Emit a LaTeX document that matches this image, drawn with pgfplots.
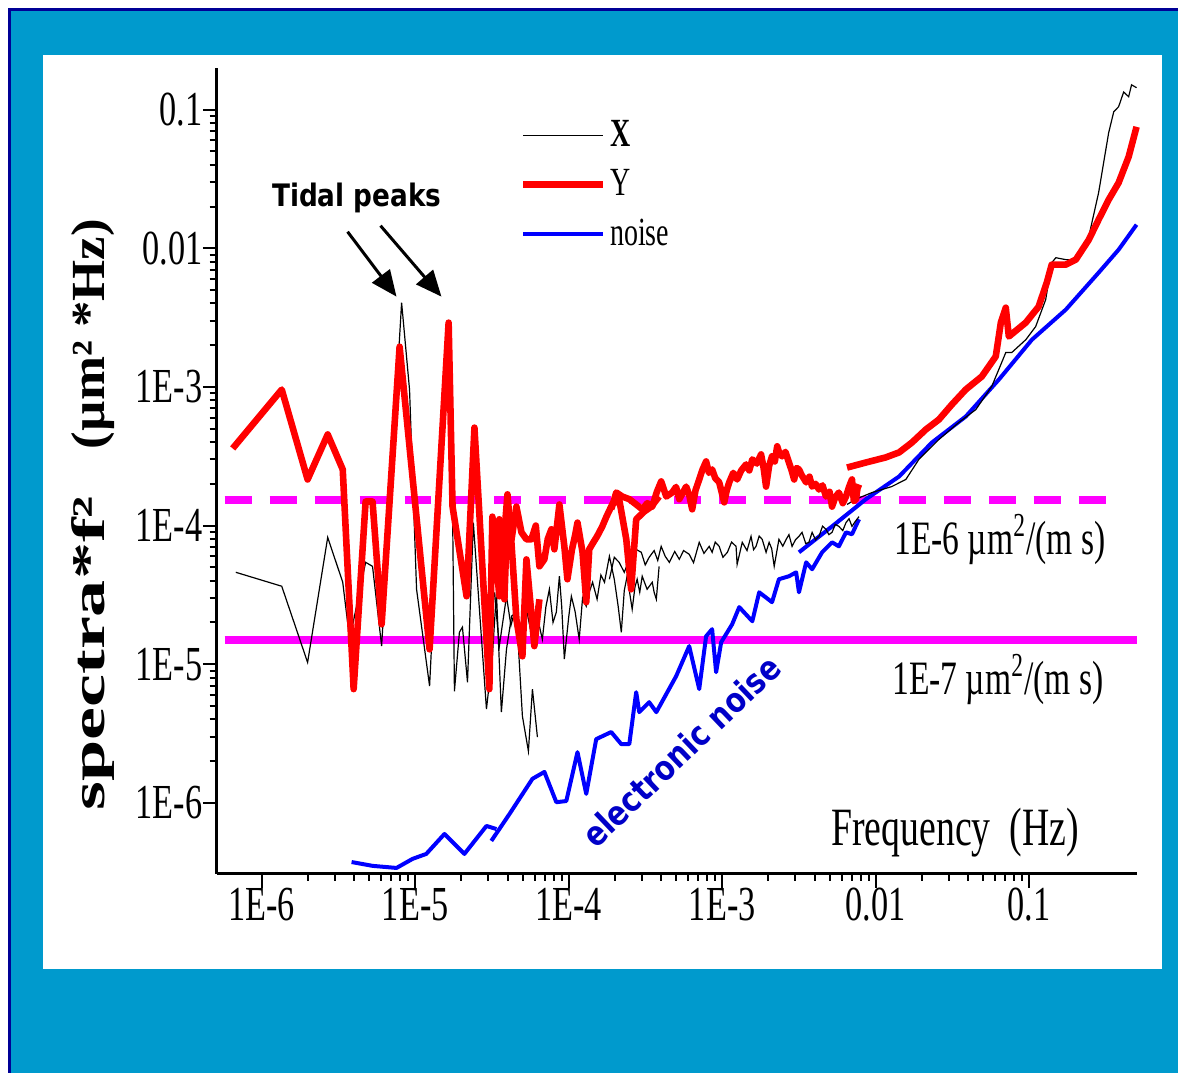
\documentclass[border=0pt]{standalone}
\usepackage{pgfplots}
\pgfplotsset{compat=1.18}
\usepackage{fontspec}
\setmainfont{Liberation Serif}
\newfontfamily\cserif[FakeStretch=0.70]{Liberation Serif}
\newfontfamily\comic[FakeStretch=0.85]{DejaVu Sans}
\usetikzlibrary{arrows.meta}
\definecolor{bgblue}{RGB}{0,154,205}
\definecolor{navyb}{RGB}{0,0,150}
\definecolor{mag}{RGB}{255,0,255}
\definecolor{enoise}{RGB}{0,0,200}
\begin{document}
\begin{tikzpicture}
\begin{scope}[x=0.5pt,y=-0.5pt]
\fill[white] (0,0) rectangle (1179,1074);
\fill[bgblue] (8,8) rectangle (1179,1074);
\draw[navyb, line width=1.5pt] (9.5,1074) -- (9.5,9.5) -- (1179,9.5);
\fill[white] (43,55) rectangle (1163,970);
\end{scope}
\begin{axis}[
 at={(108.5pt,-437.5pt)}, anchor=south west,
 scale only axis, width=460.5pt, height=403.5pt,
 xmode=log, ymode=log,
 xmin=5.09e-7, xmax=0.5, ymin=3.07e-7, ymax=0.2,
 axis x line*=bottom, axis y line*=left,
 axis line style={line width=1.5pt},
 tick align=outside,
 major tick length=7pt, minor tick length=3.5pt,
 every tick/.style={black, line width=1pt},
 xtick={1e-6,1e-5,1e-4,1e-3,1e-2,1e-1},
 xticklabels={1E-6,1E-5,1E-4,1E-3,0.01,0.1},
 ytick={1e-6,1e-5,1e-4,1e-3,1e-2,1e-1},
 yticklabels={1E-6,1E-5,1E-4,1E-3,0.01,0.1},
 ticklabel style={font=\fontsize{24.5}{26}\cserif, inner sep=0pt},
 clip=false,
 legend style={at={(0.329,0.94)}, anchor=north west, draw=none, fill=none,
   font=\fontsize{20}{22}\cserif, inner sep=0pt, row sep=6pt, cells={anchor=west}},
 legend image code/.code={\draw[#1] (0pt,0pt) -- (40pt,0pt);},
]
\addlegendimage{black, line width=0.6pt}\addlegendentry{\textbf{X}}
\addlegendimage{red, line width=3.3pt}\addlegendentry{Y}
\addlegendimage{blue, line width=2pt}\addlegendentry{noise}
% reference levels
\addplot[mag, line width=4pt, dash pattern=on 13.5pt off 9pt, forget plot] coordinates {(5.74e-7,1.53e-4) (0.382,1.53e-4)};
\addplot[mag, line width=4pt, forget plot] coordinates {(5.74e-7,1.5e-5) (0.5,1.5e-5)};
% noise
\addplot[blue, line width=2pt, line join=round, forget plot] coordinates {
(3.85e-6,3.74e-7) (5.27e-6,3.51e-7) (7.55e-6,3.39e-7) (9.60e-6,3.94e-7) (1.18e-5,4.28e-7) (1.55e-5,5.96e-7) (2.09e-5,4.28e-7) (2.91e-5,6.81e-7) (3.38e-5,6.47e-7)};
\addplot[blue, line width=2pt, line join=round, forget plot] coordinates {
(3.13e-5,5.31e-7) (4.11e-5,8.30e-7) (5.80e-5,1.49e-6) (6.94e-5,1.67e-6) (8.30e-5,1.01e-6) (9.64e-5,1.03e-6) (1.14e-4,2.32e-6) (1.30e-4,1.16e-6) (1.51e-4,2.88e-6) (1.89e-4,3.24e-6) (2.20e-4,2.65e-6) (2.48e-4,2.65e-6) (2.75e-4,6.28e-6) (2.88e-4,4.51e-6) (3.34e-4,5.32e-6) (3.72e-4,4.51e-6) (5.01e-4,8.20e-6) (6.09e-4,1.35e-5) (7.08e-4,6.61e-6) (7.85e-4,1.59e-5) (8.59e-4,1.79e-5) (9.12e-4,8.75e-6) (9.84e-4,1.44e-5) (1.16e-3,1.94e-5) (1.29e-3,2.58e-5) (1.57e-3,2.04e-5) (1.74e-3,3.30e-5) (2.11e-3,2.80e-5) (2.34e-3,4.10e-5) (2.72e-3,4.31e-5) (3.03e-3,4.60e-5) (3.16e-3,3.30e-5) (3.52e-3,5.43e-5) (3.85e-3,4.84e-5) (4.47e-3,6.41e-5) (5.19e-3,7.57e-5) (5.75e-3,7.08e-5) (6.40e-3,8.93e-5) (7.00e-3,8.65e-5) (7.78e-3,1.11e-4)};
\addplot[blue, line width=2pt, line join=round, forget plot] coordinates {
(3.16e-3,6.41e-5) (5.19e-3,9.86e-5) (8.63e-3,1.55e-4) (1.42e-2,2.26e-4) (2.32e-2,3.97e-4) (3.86e-2,6.12e-4) (6.34e-2,1.13e-3) (0.104,2.19e-3) (0.173,3.61e-3) (0.283,6.67e-3) (0.382,9.77e-3) (0.500,1.48e-2)};
% X
\addplot[black, line width=0.6pt, forget plot] coordinates {
(6.78e-7,4.60e-5) (1.35e-6,3.65e-5) (1.99e-6,1.03e-5) (2.69e-6,8.22e-5) (3.37e-6,3.90e-5) (3.74e-6,1.51e-5) (4.75e-6,5.43e-5) (5.27e-6,5.08e-5) (6.04e-6,1.35e-5) (8.15e-6,4.06e-3) (9.18e-6,9.57e-4) (1.02e-5,3.47e-5) (1.24e-5,6.95e-6) (1.60e-5,2.19e-3) (1.75e-5,1.37e-4) (1.80e-5,6.38e-6) (1.94e-5,1.70e-5) (2.03e-5,1.85e-5) (2.19e-5,7.41e-6) (2.39e-5,1.05e-4) (2.91e-5,4.74e-6) (3.18e-5,1.14e-5) (3.38e-5,3.30e-5) (3.64e-5,4.51e-6) (3.93e-5,1.28e-5) (4.24e-5,2.22e-5) (4.56e-5,2.37e-5) (4.99e-5,4.22e-6) (5.46e-5,2.36e-6) (5.80e-5,6.61e-6) (6.25e-5,2.98e-6)};
\addplot[black, line width=0.6pt, forget plot] coordinates {
(3.28e-5,3.30e-5) (3.53e-5,1.35e-5) (3.93e-5,3.09e-5) (4.2e-5,1.9e-5) (4.43e-5,2.37e-5) (4.77e-5,1.22e-5) (5.05e-5,2.0e-5) (5.30e-5,2.49e-5) (5.80e-5,1.51e-5) (6.1e-5,2.5e-5) (6.44e-5,1.88e-5) (6.73e-5,1.51e-5) (7.1e-5,2.6e-5) (7.48e-5,3.47e-5) (7.9e-5,2.0e-5) (8.30e-5,2.37e-5) (8.69e-5,4.31e-5) (9.0e-5,2.6e-5) (9.36e-5,1.09e-5) (1.0e-4,2.2e-5) (1.04e-4,3.09e-5) (1.1e-4,2.4e-5) (1.17e-4,1.51e-5) (1.23e-4,3.0e-5) (1.30e-4,2.62e-5) (1.36e-4,3.3e-5) (1.43e-4,3.90e-5) (1.53e-4,2.94e-5) (1.62e-4,4.4e-5) (1.71e-4,3.90e-5) (1.84e-4,6.00e-5) (1.98e-4,4.10e-5) (2.10e-4,2.6e-5) (2.20e-4,1.70e-5) (2.30e-4,3.4e-5) (2.40e-4,4.31e-5) (2.59e-4,2.49e-5) (2.70e-4,3.6e-5) (2.79e-4,4.10e-5) (2.90e-4,3.3e-5) (3.01e-4,4.31e-5) (3.24e-4,3.47e-5) (3.50e-4,3.90e-5) (3.60e-4,3.3e-5) (3.72e-4,2.94e-5) (3.88e-4,5.08e-5)};
\addplot[black, line width=0.6pt, forget plot] coordinates {
(1.84e-4,4.10e-5) (1.98e-4,5.9e-5) (2.13e-4,5.43e-5) (2.3e-4,4.6e-5) (2.48e-4,5.71e-5) (2.7e-4,6.8e-5) (2.97e-4,6.41e-5) (3.15e-4,5.2e-5) (3.34e-4,5.90e-5) (3.6e-4,6.6e-5) (3.8e-4,5.6e-5) (4.00e-4,7.08e-5) (4.25e-4,6.0e-5) (4.52e-4,5.43e-5) (4.9e-4,6.5e-5) (5.25e-4,5.71e-5) (5.6e-4,6.6e-5) (6.09e-4,6.21e-5) (6.5e-4,5.4e-5) (7.08e-4,7.57e-5) (7.6e-4,6.3e-5) (8.22e-4,7.08e-5) (8.59e-4,6.41e-5) (9.0e-4,7.6e-5) (9.55e-4,7.08e-5) (1.01e-3,5.9e-5) (1.08e-3,6.41e-5) (1.15e-3,7.6e-5) (1.23e-3,7.08e-5) (1.25e-3,5.25e-5) (1.35e-3,7.57e-5) (1.45e-3,6.6e-5) (1.54e-3,8.36e-5) (1.6e-3,6.7e-5) (1.66e-3,7.08e-5) (1.74e-3,8.4e-5) (1.82e-3,7.96e-5) (1.93e-3,6.41e-5) (2.02e-3,7.57e-5) (2.1e-3,6.8e-5) (2.18e-3,5.08e-5) (2.34e-3,7.96e-5) (2.48e-3,7.1e-5) (2.61e-3,7.96e-5) (2.72e-3,8.6e-5) (2.85e-3,7.08e-5) (3.0e-3,7.9e-5) (3.16e-3,8.36e-5) (3.31e-3,8.93e-5) (3.5e-3,7.4e-5) (3.67e-3,7.57e-5) (3.85e-3,8.93e-5) (4.05e-3,7.9e-5) (4.27e-3,8.36e-5) (4.5e-3,9.9e-5) (4.74e-3,9.40e-5) (4.95e-3,8.6e-5) (5.19e-3,8.93e-5) (5.45e-3,1.02e-4) (5.75e-3,9.86e-5) (6.1e-3,9.2e-5) (6.40e-3,1.05e-4) (6.7e-3,1.12e-4) (7.00e-3,9.86e-5) (7.4e-3,1.08e-4) (7.78e-3,1.16e-4)};
\addplot[black, line width=0.6pt, forget plot] coordinates {
(6.50e-3,1.42e-4) (7.43e-3,1.55e-4) (9.45e-3,1.73e-4) (1.27e-2,1.91e-4) (1.57e-2,2.15e-4) (1.91e-2,3.00e-4) (2.58e-2,4.18e-4) (3.48e-2,5.55e-4) (4.49e-2,6.87e-4) (5.70e-2,1.01e-3) (6.53e-2,1.45e-3) (7.03e-2,1.77e-3) (7.69e-2,1.77e-3) (9.49e-2,2.19e-3) (0.110,2.72e-3) (0.128,4.27e-3) (0.140,7.87e-3) (0.149,8.55e-3) (0.173,8.28e-3) (0.201,8.28e-3) (0.244,1.21e-2) (0.283,2.52e-2) (0.329,6.81e-2) (0.355,9.64e-2) (0.382,0.105) (0.412,0.134) (0.444,0.124) (0.464,0.151) (0.500,0.144)};
% Y
\addplot[red, line width=3.3pt, line join=round, forget plot] coordinates {
(6.47e-7,3.60e-4) (1.35e-6,9.57e-4) (1.99e-6,2.15e-4) (2.69e-6,4.54e-4) (3.37e-6,2.54e-4) (3.97e-6,6.61e-6) (4.75e-6,1.49e-4) (5.27e-6,1.49e-4) (6.04e-6,1.94e-5) (7.91e-6,1.95e-3) (1.24e-5,1.28e-5) (1.65e-5,2.91e-3) (1.75e-5,1.37e-4) (2.16e-5,3.09e-5) (2.43e-5,5.09e-4) (3.04e-5,6.61e-6) (3.18e-5,1.16e-4) (3.53e-5,3.09e-5) (3.99e-5,1.68e-4) (4.24e-5,7.33e-5) (4.56e-5,2.11e-5) (4.99e-5,1.14e-5) (5.30e-5,5.70e-5) (5.97e-5,1.35e-5) (6.44e-5,2.94e-5)};
\addplot[red, line width=3.3pt, line join=round, forget plot] coordinates {
(3.28e-5,5.71e-5) (3.53e-5,1.11e-4) (3.81e-5,2.94e-5) (3.99e-5,1.31e-4) (4.24e-5,7.96e-5) (4.56e-5,1.37e-4) (4.92e-5,8.93e-5) (5.30e-5,7.96e-5) (5.71e-5,7.96e-5) (6.1e-5,1.0e-4) (6.44e-5,5.08e-5) (6.94e-5,5.71e-5) (7.3e-5,8.0e-5) (7.71e-5,9.40e-5) (8.06e-5,6.74e-5) (8.69e-5,1.42e-4) (9.36e-5,7.08e-5) (9.80e-5,4.10e-5) (1.05e-4,6.74e-5) (1.1e-4,8.5e-5) (1.14e-4,1.05e-4) (1.23e-4,6.41e-5) (1.30e-4,2.80e-5) (1.36e-4,6.74e-5) (1.45e-4,7.6e-5) (1.53e-4,8.36e-5) (1.65e-4,9.8e-5) (1.76e-4,1.16e-4) (1.92e-4,1.42e-4) (2.13e-4,1.55e-4) (2.37e-4,7.96e-5) (2.55e-4,3.47e-5) (2.75e-4,1.11e-4) (3.10e-4,1.26e-4) (3.45e-4,1.37e-4) (3.88e-4,1.62e-4)};
\addplot[red, line width=3.3pt, line join=round, forget plot] coordinates {
(1.89e-4,1.31e-4) (2.04e-4,1.73e-4) (2.23e-4,1.62e-4) (2.48e-4,1.55e-4) (2.75e-4,1.42e-4) (3.01e-4,1.31e-4) (3.25e-4,1.45e-4) (3.50e-4,1.37e-4) (3.75e-4,1.75e-4) (4.00e-4,2.08e-4) (4.32e-4,1.62e-4) (4.72e-4,1.73e-4) (5.0e-4,1.9e-4) (5.25e-4,1.55e-4) (5.82e-4,1.91e-4) (6.1e-4,1.65e-4) (6.37e-4,1.31e-4) (6.7e-4,1.8e-4) (7.08e-4,2.15e-4) (7.4e-4,2.5e-4) (7.85e-4,2.90e-4) (8.2e-4,2.4e-4) (8.59e-4,2.54e-4) (9.0e-4,2.2e-4) (9.55e-4,2.05e-4) (1.03e-3,1.47e-4) (1.07e-3,1.8e-4) (1.11e-3,2.05e-4) (1.18e-3,2.4e-4) (1.25e-3,2.15e-4) (1.33e-3,2.5e-4) (1.43e-3,2.76e-4) (1.50e-3,2.5e-4) (1.57e-3,3.00e-4) (1.68e-3,2.8e-4) (1.79e-3,3.26e-4) (1.86e-3,2.6e-4) (1.93e-3,1.91e-4) (2.02e-3,2.7e-4) (2.11e-3,3.16e-4) (2.2e-3,2.9e-4) (2.28e-3,3.73e-4) (2.36e-3,3.3e-4) (2.45e-3,3.16e-4) (2.58e-3,3.4e-4) (2.72e-3,2.85e-4) (2.83e-3,2.5e-4) (2.94e-3,2.15e-4) (3.05e-3,2.6e-4) (3.16e-3,2.54e-4) (3.3e-3,2.3e-4) (3.52e-3,2.05e-4) (3.7e-3,2.25e-4) (3.85e-3,1.91e-4) (4.05e-3,2.0e-4) (4.27e-3,1.82e-4) (4.5e-3,1.95e-4) (4.74e-3,1.62e-4) (5.0e-3,1.75e-4) (5.19e-3,1.37e-4) (5.45e-3,1.6e-4) (5.75e-3,1.73e-4) (6.1e-3,1.45e-4) (6.40e-3,1.62e-4) (6.7e-3,1.9e-4) (7.00e-3,2.15e-4) (7.2e-3,1.5e-4) (7.43e-3,1.55e-4) (7.6e-3,1.85e-4) (7.78e-3,1.98e-4)};
\addplot[red, line width=3.3pt, line join=round, forget plot] coordinates {
(6.50e-3,2.62e-4) (8.63e-3,2.85e-4) (1.16e-2,3.10e-4) (1.42e-2,3.37e-4) (1.72e-2,3.97e-4) (2.12e-2,4.93e-4) (2.58e-2,5.82e-4) (3.13e-2,7.46e-4) (3.86e-2,9.58e-4) (4.91e-2,1.19e-3) (6.05e-2,1.66e-3) (6.53e-2,2.91e-3) (7.03e-2,3.73e-3) (7.36e-2,2.31e-3) (9.49e-2,2.91e-3) (0.115,3.79e-3) (0.130,5.65e-3) (0.140,7.62e-3) (0.173,7.62e-3) (0.201,8.28e-3) (0.244,1.15e-2) (0.283,1.61e-2) (0.329,2.24e-2) (0.382,2.97e-2) (0.444,4.57e-2) (0.500,7.52e-2)};
\end{axis}
\begin{scope}[x=0.5pt,y=-0.5pt]
\node[anchor=base west, inner sep=0pt] at (272,207) {\fontsize{15.5}{17}\comic\bfseries Tidal peaks};
\draw[line width=1.5pt, -{Triangle[length=13pt,width=11pt]}] (348,232) -- (397,297);
\draw[line width=1.5pt, -{Triangle[length=13pt,width=11pt]}] (381,226) -- (442,297);
\node[anchor=base west, inner sep=0pt] at (895,555) {\fontsize{24}{26}\cserif 1E-6 µm\textsuperscript{2}/(m s)};
\node[anchor=base west, inner sep=0pt] at (893,695) {\fontsize{24}{26}\cserif 1E-7 µm\textsuperscript{2}/(m s)};
\node[anchor=base west, inner sep=0pt] at (832,847) {\fontsize{27}{29}\cserif Frequency\ \ (Hz)};
\node[rotate=43.6, inner sep=0pt, text=enoise] at (682,752) {\fontsize{17}{19}\comic\bfseries electronic noise};
\node[rotate=90, anchor=base west, inner sep=0pt] at (105,812) {\resizebox{157.5pt}{16.5pt}{\bfseries spectra*f²}};
\node[rotate=90, anchor=base west, inner sep=0pt] at (105,450) {\resizebox{115pt}{16.5pt}{\bfseries (µm² *Hz)}};
\end{scope}
\end{tikzpicture}
\end{document}
